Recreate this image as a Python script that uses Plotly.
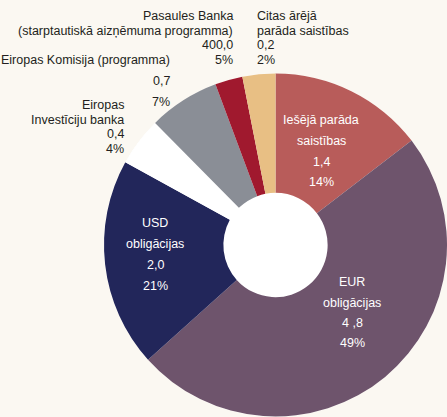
import plotly.graph_objects as go

W, H = 447, 417

# Data (slice shares, %)
categories = [
    "Iekšējā parāda saistības",
    "EUR obligācijas",
    "USD obligācijas",
    "Eiropas Investīciju banka",
    "Eiropas Komisija (programma)",
    "Pasaules Banka (starptautiskā aizņēmuma programma)",
    "Citas ārējā parāda saistības",
]
shares = [14.6, 48.8, 19.7, 4.6, 6.7, 2.6, 3.1]
colors = ["#b85c5a", "#6e546c", "#22265a", "#ffffff", "#8a8e96", "#a0192e", "#e8bf84"]

# Label texts as printed
amount_labels = ["1,4", "4 ,8", "2,0", "0,4", "0,7", "400,0", "0,2"]
share_labels = ["14%", "49%", "21%", "4%", "7%", "5%", "2%"]

FONT = "Liberation Sans, Arial, sans-serif"
FS = 12.5
BG = "#fbf8f2"
DARK = "#231f20"

dom_x = [104 / W, 1.0]
dom_y = [0.0, 1 - 73 / H]

fig = go.Figure()
# white disk under the donut so the hole shows white
fig.add_trace(go.Pie(values=[1], marker=dict(colors=["#ffffff"]), domain=dict(x=dom_x, y=dom_y),
                     textinfo="none", hoverinfo="skip", sort=False, showlegend=False))
fig.add_trace(go.Pie(labels=categories, values=shares, marker=dict(colors=colors, line=dict(width=0)),
                     hole=0.304, sort=False, direction="clockwise", rotation=0,
                     domain=dict(x=dom_x, y=dom_y), textinfo="none", showlegend=False))

ann = []
def lab(text, x, y, anchor, color=DARK):
    ann.append(dict(text=text, x=x / W, y=1 - y / H, xref="paper", yref="paper",
                    xanchor=anchor, yanchor="middle", showarrow=False,
                    font=dict(family=FONT, size=FS, color=color)))

# Pasaules Banka
lab("Pasaules Banka", 235, 16, "right")
lab("(starptautiskā aizņēmuma programma)", 235, 31, "right")
lab(amount_labels[5], 235, 45, "right")
lab(share_labels[5], 235, 60, "right")
# Citas
lab("Citas ārējā", 255, 16, "left")
lab("parāda saistības", 255, 31, "left")
lab(amount_labels[6], 255, 45, "left")
lab(share_labels[6], 255, 60, "left")
# Eiropas Komisija
lab("Eiropas Komisija (programma)", 172, 60, "right")
lab(amount_labels[4], 172, 81, "right")
lab(share_labels[4], 172, 102, "right")
# EIB
lab("Eiropas", 126, 105, "right")
lab("Investīciju banka", 126, 120, "right")
lab(amount_labels[3], 126, 134, "right")
lab(share_labels[3], 126, 149, "right")
# Inside labels
WH = "#ffffff"
lab("Iešējā parāda", 321, 120, "center", WH)
lab("saistības", 321, 141, "center", WH)
lab(amount_labels[0], 321, 162, "center", WH)
lab(share_labels[0], 321, 182, "center", WH)

lab("USD", 155, 223, "center", WH)
lab("obligācijas", 155, 244, "center", WH)
lab(amount_labels[2], 155, 265, "center", WH)
lab(share_labels[2], 155, 286, "center", WH)

lab("EUR", 352, 282, "center", WH)
lab("obligācijas", 352, 303, "center", WH)
lab(amount_labels[1], 352, 323, "center", WH)
lab(share_labels[1], 352, 343, "center", WH)

fig.update_layout(width=W, height=H, margin=dict(l=0, r=0, t=0, b=0),
                  paper_bgcolor=BG, plot_bgcolor=BG, annotations=ann,
                  font=dict(family=FONT))
fig.write_html("out.html", config={"displayModeBar": False})

# remove default page margin so the figure sits at the window's top-left corner
with open("out.html", encoding="utf-8") as f:
    html = f.read()
html = html.replace("<body>", '<body style="margin:0;padding:0;overflow:hidden">', 1)
with open("out.html", "w", encoding="utf-8") as f:
    f.write(html)
